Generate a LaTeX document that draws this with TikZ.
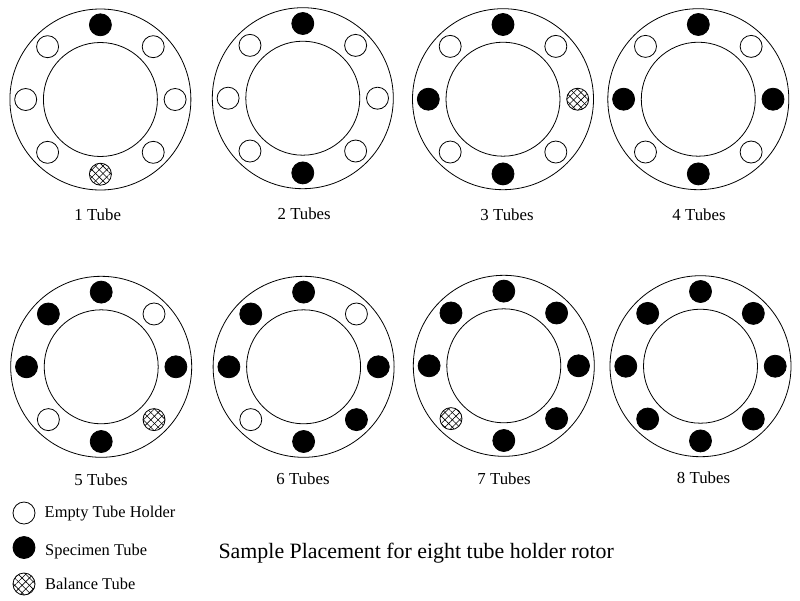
\documentclass[tikz,border=0pt]{standalone}
\usepackage{fontspec}
\setmainfont{Liberation Serif}
\usetikzlibrary{patterns.meta}
\tikzset{
  ring/.style={circle, draw=black, line width=0.8pt, inner sep=0pt, outer sep=0pt},
  etube/.style={ring, minimum size=22pt},
  stube/.style={ring, fill=black, minimum size=22pt},
  btube/.style={ring, minimum size=22pt,
    postaction={pattern={Lines[angle=45, distance=5.2pt, line width=0.6pt]}},
    postaction={pattern={Lines[angle=-45, distance=5.2pt, line width=0.6pt]}}},
  caption/.style={font=\fontsize{16.8}{20}\selectfont},
  legend/.style={font=\fontsize{16.4}{20}\selectfont, anchor=west}
}
\newcommand\rotor[4]{\begin{scope}[shift={(#2,#3)}]
\node[ring, minimum size=181pt] (#1o) at (0,0) {};
\node[ring, minimum size=114pt] (#1i) at (0,0) {};
\foreach \st [count=\i] in {#4} {\node[\st] (#1t\i) at (-135+45*\i:74.7) {};}
\end{scope}}

\begin{document}
\begin{tikzpicture}[x=1pt,y=-1pt]
\useasboundingbox (0,0) rectangle (800,600);

\rotor{a}{100.4}{99.5}{stube,etube,etube,etube,btube,etube,etube,etube};
\rotor{b}{302.8}{98.2}{stube,etube,etube,etube,stube,etube,etube,etube};
\rotor{c}{503}{99.2}{stube,etube,btube,etube,stube,etube,stube,etube};
\rotor{d}{698.3}{99.2}{stube,etube,stube,etube,stube,etube,stube,etube};
\rotor{e}{101.2}{366.8}{stube,etube,stube,btube,stube,etube,stube,stube};
\rotor{f}{303.6}{366.8}{stube,etube,stube,stube,stube,etube,stube,stube};
\rotor{g}{503.8}{365.8}{stube,stube,stube,stube,stube,btube,stube,stube};
\rotor{h}{700.5}{366.2}{stube,stube,stube,stube,stube,stube,stube,stube};

\node[caption] (capa) at (97.7,214.5) {1 Tube};
\node[caption] (capb) at (304.2,213.5) {2 Tubes};
\node[caption] (capc) at (507,214.5) {3 Tubes};
\node[caption] (capd) at (699,214.5) {4 Tubes};
\node[caption] (cape) at (101,480) {5 Tubes};
\node[caption] (capf) at (303,479) {6 Tubes};
\node[caption] (capg) at (504,479) {7 Tubes};
\node[caption] (caph) at (703.5,478) {8 Tubes};

\node[etube] (keye) at (24,513) {};
\node[stube] (keys) at (24,547.5) {};
\node[btube] (keyb) at (24,584) {};
\node[legend] (txte) at (41.2,514) {Empty Tube Holder};
\node[legend] (txts) at (41.7,552) {Specimen Tube};
\node[legend] (txtb) at (41.7,584) {Balance Tube};

\node[anchor=west, font=\fontsize{21.9}{26}\selectfont] (title) at (215,553) {Sample Placement for eight tube holder rotor};
\end{tikzpicture}
\end{document}
